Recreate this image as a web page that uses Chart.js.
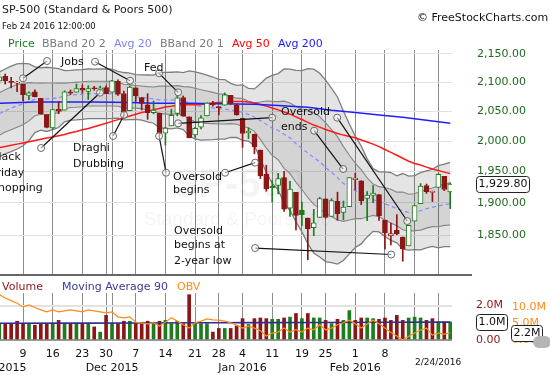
<!DOCTYPE html>
<html><head><meta charset="utf-8">
<script src="https://cdn.jsdelivr.net/npm/chart.js@4.4.1/dist/chart.umd.min.js"></script>
<style>
html,body{margin:0;padding:0;background:#fff}
body{width:550px;height:375px;overflow:hidden;position:relative;font-family:"DejaVu Sans",Verdana,sans-serif;color:#111}
canvas{position:absolute;left:0}
.t{position:absolute;white-space:nowrap;font-size:11px;line-height:13px}
</style></head><body>
<canvas id="pc" width="550" height="280" style="top:0px;width:550px;height:280px"></canvas>
<canvas id="vc" width="550" height="95" style="top:280px;width:550px;height:95px"></canvas>
<div class="t" style="left:2px;top:3px;color:#222">SP-500 (Standard &amp; Poors 500)</div>
<div class="t" style="left:2px;top:20px;font-size:8.5px;color:#111">Feb 24 2016 12:00:00</div>
<div class="t" style="left:417px;top:11px;color:#111">© FreeStockCharts.com</div>
<div class="t" style="left:8px;top:37px;color:#1e7b1e">Price</div>
<div class="t" style="left:42px;top:37px;color:#7a7a7a">BBand 20 2</div>
<div class="t" style="left:114px;top:37px;color:#8080ff">Avg 20</div>
<div class="t" style="left:160px;top:37px;color:#7a7a7a">BBand 20 1</div>
<div class="t" style="left:232px;top:37px;color:#ff0000">Avg 50</div>
<div class="t" style="left:278px;top:37px;color:#1a1aff">Avg 200</div>

<div class="t" style="left:61px;top:55px">Jobs</div>
<div class="t" style="left:144px;top:61px">Fed</div>
<div class="t" style="left:73px;top:141px">Draghi</div>
<div class="t" style="left:73px;top:157px">Drubbing</div>
<div class="t" style="left:-9px;top:150px">Black</div>
<div class="t" style="left:-9px;top:166px">Friday</div>
<div class="t" style="left:-9px;top:181px">Shopping</div>
<div class="t" style="left:173px;top:170px">Oversold</div>
<div class="t" style="left:173px;top:183px">begins</div>
<div class="t" style="left:281px;top:105px">Oversold</div>
<div class="t" style="left:281px;top:120px">ends</div>
<div class="t" style="left:174px;top:224px">Oversold</div>
<div class="t" style="left:174px;top:238px">begins at</div>
<div class="t" style="left:174px;top:254px">2-year low</div>

<div style="position:absolute;left:0;top:274px;width:472px;height:2px;background:#666"></div>
<div class="t" style="left:2px;top:280px;color:#8c1616">Volume</div>
<div class="t" style="left:62px;top:280px;color:#3a3a9a">Moving Average 90</div>
<div class="t" style="left:177px;top:280px;color:#ff8c1a">OBV</div>
<div class="t" style="left:415px;top:356px;font-size:9px">2/24/2016</div>
<div style="position:absolute;left:533px;top:336px;width:18px;height:12px;border-radius:6px;background:#b5b5b5"></div>

<script>
// ---------------- DATA ----------------
const dates = ["2015-11-03","2015-11-04","2015-11-05","2015-11-06","2015-11-09","2015-11-10","2015-11-11","2015-11-12","2015-11-13","2015-11-16","2015-11-17","2015-11-18","2015-11-19","2015-11-20","2015-11-23","2015-11-24","2015-11-25","2015-11-27","2015-11-30",
"2015-12-01","2015-12-02","2015-12-03","2015-12-04","2015-12-07","2015-12-08","2015-12-09","2015-12-10","2015-12-11","2015-12-14","2015-12-15","2015-12-16","2015-12-17","2015-12-18","2015-12-21","2015-12-22","2015-12-23","2015-12-24","2015-12-28","2015-12-29","2015-12-30","2015-12-31",
"2016-01-04","2016-01-05","2016-01-06","2016-01-07","2016-01-08","2016-01-11","2016-01-12","2016-01-13","2016-01-14","2016-01-15","2016-01-19","2016-01-20","2016-01-21","2016-01-22","2016-01-25","2016-01-26","2016-01-27","2016-01-28","2016-01-29",
"2016-02-01","2016-02-02","2016-02-03","2016-02-04","2016-02-05","2016-02-08","2016-02-09","2016-02-10","2016-02-11","2016-02-12","2016-02-16","2016-02-17","2016-02-18","2016-02-19","2016-02-22","2016-02-23","2016-02-24"];

const opens = [2102.63,2110.60,2101.68,2098.60,2096.56,2077.19,2083.41,2072.29,2044.64,2022.08,2053.67,2051.99,2083.70,2082.82,2089.41,2084.42,2089.30,2088.82,2090.95,
2082.93,2101.71,2080.71,2051.24,2090.42,2073.39,2061.17,2047.93,2047.27,2013.37,2025.55,2046.50,2073.76,2040.81,2010.27,2023.15,2042.20,2063.52,2057.77,2060.54,2077.34,2060.59,
2038.20,2013.78,2011.71,1985.32,1945.97,1926.12,1927.83,1940.34,1891.68,1916.68,1888.66,1876.18,1861.46,1877.40,1906.28,1878.79,1902.52,1885.22,1894.00,
1936.94,1935.26,1907.07,1911.67,1913.07,1873.25,1848.46,1857.10,1847.00,1833.40,1871.44,1898.80,1927.57,1916.74,1924.44,1942.38,1917.56];

const highs = [2116.48,2114.59,2108.78,2101.91,2096.56,2083.67,2086.94,2072.29,2044.64,2053.22,2066.69,2085.31,2086.74,2097.06,2095.61,2094.12,2093.00,2093.29,2093.81,
2103.37,2104.27,2085.00,2093.84,2090.42,2073.85,2080.33,2067.65,2047.27,2022.92,2053.87,2076.72,2076.37,2040.81,2022.90,2042.74,2064.73,2067.36,2057.77,2081.56,2077.34,2062.54,
2038.20,2021.94,2011.71,1985.32,1960.40,1935.65,1947.38,1950.33,1934.47,1916.68,1901.44,1876.18,1889.85,1908.85,1906.28,1906.73,1916.99,1902.96,1940.24,
1947.20,1935.26,1918.01,1927.35,1913.07,1873.25,1868.25,1881.60,1847.00,1864.78,1895.77,1930.68,1930.00,1918.78,1946.70,1942.38,1932.00];

const lows = [2097.51,2096.98,2090.41,2083.74,2068.24,2069.91,2074.85,2045.66,2022.02,2019.94,2045.90,2051.99,2078.76,2082.82,2081.39,2070.29,2086.30,2084.13,2080.41,
2082.93,2077.11,2042.35,2051.24,2066.78,2052.32,2036.53,2045.67,2008.80,1993.26,2025.55,2042.43,2041.66,2005.33,2005.93,2020.49,2042.20,2058.73,2044.20,2060.54,2061.97,2043.62,
1989.68,2004.17,1979.05,1938.83,1918.46,1901.10,1914.35,1886.41,1878.93,1857.83,1864.60,1812.29,1848.98,1877.40,1875.97,1878.79,1872.70,1873.65,1894.00,
1920.30,1897.29,1872.23,1900.52,1872.65,1828.46,1834.94,1850.32,1810.10,1833.40,1871.44,1898.80,1915.09,1902.17,1924.44,1919.44,1891.00];

const closes = [2109.79,2102.31,2099.93,2099.20,2078.58,2081.72,2075.00,2045.97,2023.04,2053.19,2050.44,2083.58,2081.24,2089.17,2086.59,2089.14,2088.87,2090.11,2080.41,
2102.63,2079.51,2049.62,2091.69,2077.07,2063.59,2047.62,2052.23,2012.37,2021.94,2043.41,2073.07,2041.89,2005.55,2021.15,2038.97,2064.29,2060.99,2056.50,2078.36,2063.36,2043.94,
2012.66,2016.71,1990.26,1943.09,1922.03,1923.67,1938.68,1890.28,1921.84,1880.33,1881.33,1859.33,1868.99,1906.90,1877.08,1903.63,1882.95,1893.36,1940.24,
1939.38,1903.03,1912.53,1915.45,1880.05,1853.44,1852.21,1851.86,1829.08,1864.78,1895.58,1926.82,1917.83,1917.78,1945.50,1921.27,1929.80];

const prevClose = 2104.05; // close before the first candle

const avg20 = [2045.9,2051.2,2055.5,2059.7,2062.8,2066.7,2070.7,2071.8,2071.3,2072.3,2073.3,2076.5,2078.0,2078.7,2079.4,2080.6,2080.5,2080.6,2080.6,2080.5,2079.0,2076.4,2076.0,2074.9,2074.1,2072.4,2071.3,2069.6,2069.6,2069.1,2070.2,2068.1,2064.3,2060.9,2058.5,2057.3,2055.9,2054.2,2054.1,2052.2,2050.4,2048.5,2044.8,2040.4,2034.4,2028.1,2021.7,2018.0,2011.4,2005.4,1995.7,1987.7,1980.4,1972.8,1966.2,1956.8,1948.9,1940.3,1931.0,1924.9,1919.6,1914.2,1908.9,1905.2,1902.1,1898.6,1895.1,1890.7,1887.7,1884.8,1885.6,1887.8,1890.8,1893.2,1895.1,1897.3,1898.6];

const bbUpper2 = [2117.9,2123.4,2128.5,2132.5,2133.4,2132.3,2127.1,2125.4,2126.5,2125.3,2123.9,2120.7,2120.8,2121.9,2122.4,2123.4,2123.3,2123.4,2123.4,2123.1,2119.4,2117.2,2116.0,2113.5,2113.1,2112.8,2112.7,2117.2,2117.4,2117.7,2118.2,2117.1,2119.9,2118.3,2115.5,2112.5,2109.3,2105.2,2104.9,2098.2,2094.8,2095.7,2089.6,2088.6,2097.4,2107.5,2112.3,2115.4,2123.6,2123.0,2120.9,2120.5,2124.0,2123.0,2115.8,2104.0,2089.7,2074.7,2050.8,2028.5,2008.2,1992.0,1970.7,1954.8,1949.5,1949.6,1948.5,1943.3,1946.9,1942.6,1943.4,1948.4,1951.2,1953.8,1959.7,1962.3,1965.0];

const bbUpper1 = [2081.9,2087.3,2092.0,2096.1,2098.1,2099.5,2098.9,2098.6,2098.9,2098.8,2098.6,2098.6,2099.4,2100.3,2100.9,2102.0,2101.9,2102.0,2102.0,2101.8,2099.2,2096.8,2096.0,2094.2,2093.6,2092.6,2092.0,2093.4,2093.5,2093.4,2094.2,2092.6,2092.1,2089.6,2087.0,2084.9,2082.6,2079.7,2079.5,2075.2,2072.6,2072.1,2067.2,2064.5,2065.9,2067.8,2067.0,2066.7,2067.5,2064.2,2058.3,2054.1,2052.2,2047.9,2041.0,2030.4,2019.3,2007.5,1990.9,1976.7,1963.9,1953.1,1939.8,1930.0,1925.8,1924.1,1921.8,1917.0,1917.3,1913.7,1914.5,1918.1,1921.0,1923.5,1927.4,1929.8,1931.8];

const bbLower1 = [2009.9,2015.1,2019.0,2023.3,2027.5,2033.9,2042.5,2045.0,2043.7,2045.8,2048.0,2054.4,2056.6,2057.1,2057.9,2059.2,2059.1,2059.2,2059.2,2059.2,2058.8,2056.0,2056.0,2055.6,2054.6,2052.2,2050.6,2045.8,2045.7,2044.8,2046.2,2043.6,2036.5,2032.2,2030.0,2029.7,2029.2,2028.7,2028.7,2029.2,2028.2,2024.9,2022.4,2016.3,2002.9,1988.4,1976.4,1969.3,1955.3,1946.6,1933.1,1921.3,1908.6,1897.7,1891.4,1883.2,1878.5,1873.1,1871.1,1873.1,1875.3,1875.3,1878.0,1880.4,1878.4,1873.1,1868.4,1864.4,1858.1,1855.9,1856.7,1857.5,1860.6,1862.9,1862.8,1864.8,1865.4];

const bbLower2 = [1973.9,1979.0,1982.5,1986.9,1992.2,2001.1,2014.3,2018.2,2016.1,2019.3,2022.7,2032.3,2035.2,2035.5,2036.4,2037.8,2037.7,2037.8,2037.8,2037.9,2038.6,2035.6,2036.0,2036.3,2035.1,2032.0,2029.9,2022.0,2021.8,2020.5,2022.2,2019.1,2008.7,2003.5,2001.5,2002.1,2002.5,2003.2,2003.3,2006.2,2006.0,2001.3,2000.0,1992.2,1971.4,1948.7,1931.1,1920.6,1899.2,1887.8,1870.5,1854.9,1836.8,1822.6,1816.6,1809.6,1808.1,1805.9,1811.2,1821.3,1831.0,1836.4,1847.1,1855.6,1854.7,1847.6,1841.7,1838.1,1828.5,1827.0,1827.8,1827.2,1830.4,1832.6,1830.5,1832.3,1832.2];

const avg50 = [1989,1991,1993,1995,1997,1999,2001,2003,2005,2007,2009,2011,2014,2016,2019,2021,2024,2027,2030,2033,2036,2039,2042,2045,2048,2050,2053,2055,2057.6,2058.8,2060.6,2061.5,2061.4,2061.5,2061.9,2063.2,2064.5,2065.2,2066.1,2066.7,2066.9,2066.8,2066.1,2064.4,2061.8,2058.9,2055.6,2052.6,2048.8,2045.2,2040.6,2036.2,2031.4,2026.8,2023.4,2019.3,2015.9,2012.6,2010.0,2007.7,2005.5,2001.9,1998.5,1995.0,1990.9,1986.2,1981.5,1976.7,1971.7,1966.9,1963.2,1960.8,1957.3,1954.1,1951.7,1949.2,1946.7];

const avg200Dates = ["2015-11-03","2015-11-11","2015-11-18","2015-11-25","2015-12-04","2015-12-10","2015-12-18","2015-12-28","2016-01-06","2016-01-12","2016-01-20","2016-01-26","2016-02-01","2016-02-05","2016-02-11","2016-02-18","2016-02-24"];
const avg200 = [2064,2066,2066,2066,2065,2064,2064,2063,2062,2060,2057,2052,2048,2044,2040,2035,2030];

// volume, its 90-day average and on-balance volume (millions)
const volumeM = [0.95,0.95,0.95,1.09,0.95,0.95,0.86,0.95,0.95,0.95,1.14,0.95,0.95,0.95,0.95,0.95,0.76,0.46,1.43,0.95,0.95,1.09,1.09,0.95,0.95,1.09,0.95,1.09,1.14,0.95,1.09,0.95,2.63,0.95,0.95,0.95,0.46,0.67,0.67,0.67,0.82,1.24,0.90,1.24,1.28,1.24,1.20,1.20,1.28,1.33,1.54,1.24,1.54,1.28,1.28,1.14,0.95,1.20,1.14,1.71,1.14,1.28,1.28,1.24,1.20,1.28,1.14,1.43,1.14,1.28,1.33,1.28,1.14,1.24,1.05,1.05,1.05];
const obvM = [13.7,12.7,11.9,11.1,10.0,10.6,9.8,9.1,8.5,9.1,8.5,8.8,9.1,8.8,8.5,9.1,8.8,8.5,8.2,8.5,7.0,6.7,7.0,5.4,5.1,4.9,5.2,4.2,5.4,6.7,5.7,4.6,3.6,5.2,5.7,6.4,6.1,6.0,5.7,5.2,4.5,3.6,4.2,3.6,2.8,1.2,2.1,2.4,3.6,2.4,3.1,2.4,3.6,3.1,4.6,3.1,3.6,4.6,5.2,6.0,4.9,3.6,4.8,6.0,4.9,3.6,2.3,1.2,0.0,1.1,2.1,3.0,3.6,1.5,2.1,1.8,2.2];
const ma90Dates = ["2015-11-03","2015-11-23","2015-12-08","2015-12-22","2016-01-07","2016-01-22","2016-02-08","2016-02-24"];
const ma90 = [0.97,0.98,0.99,1.00,1.01,1.02,1.03,1.04];

// axis ticks
const priceTicks = [1850,1900,1950,2000,2050,2100,2150];
const gridDates = ["2015-11-09","2015-11-16","2015-11-23","2015-11-30","2015-12-01","2015-12-07","2015-12-14","2015-12-21","2015-12-28","2016-01-04","2016-01-11","2016-01-19","2016-01-25","2016-02-01","2016-02-08","2016-02-16","2016-02-22"];
const dayText   = ["9","16","23","30","","7","14","21","28","4","11","19","25","1","8","",""];
const monthText = ["","","","","Dec 2015","","","","","Jan 2016","","","","Feb 2016","","",""];
const firstMonthText = "Nov 2015";

// ---------------- CHART ----------------
Chart.defaults.font.family = '"DejaVu Sans", Verdana, sans-serif';
Chart.defaults.font.size = 11;
const FONT = '11px "DejaVu Sans", Verdana, sans-serif';
const xi = d => dates.indexOf(d);
const X_MIN = 0.12, X_MAX = 76.3;
const GREEN = '#1e7b1e', RED = '#8c1616';
const isUp = closes.map((c,i) => c >= (i > 0 ? closes[i-1] : prevClose));
const col = i => isUp[i] ? GREEN : RED;
const pts = arr => arr.map((v,i) => ({x:i, y:v}));

const annotations = [
  [4.0,2107.1, 8.05,2137.5], [16.14,2136.3, 22.04,2102.9],
  [7.04,1988.6, 16.98,2082.0], [19.18,2008.5, 21.03,2043.8],
  [26.93,2115.8, 30.14,2082.7], [26.93,2008.5, 28.11,1948.2],
  [38.06,1948.2, 43.12,1964.5], [30.14,2029.8, 45.99,2039.3],
  [53.07,2017.3, 57.96,1954.2], [56.95,2039.3, 68.76,1871.6],
  [43.12,1830.1, 66.06,1820.3]
];

function gridTicks(scale){ scale.ticks = gridDates.map(d => ({value: xi(d)})); }
function fixWidth(w){ return s => { s.width = w; s.paddingTop = 0; s.paddingBottom = 0; }; }

function roundBox(ctx, x, y, text, w){
  ctx.save();
  ctx.font = FONT;
  const tw = w || ctx.measureText(text).width + 4;
  ctx.beginPath();
  ctx.roundRect(x + 0.5, Math.round(y - 8) + 0.5, tw, 16, 3);
  ctx.fillStyle = '#fff'; ctx.fill();
  ctx.strokeStyle = '#222'; ctx.lineWidth = 1; ctx.stroke();
  ctx.fillStyle = '#111'; ctx.textBaseline = 'middle'; ctx.textAlign = 'left';
  ctx.fillText(text, x + 2.5, Math.round(y) + 0.5);
  ctx.restore();
}

const priceDecor = {
  id: 'priceDecor',
  beforeDatasetsDraw(chart){
    const {ctx, chartArea:a} = chart;
    ctx.save();
    ctx.fillStyle = 'rgba(0,0,0,0.045)';
    ctx.textAlign = 'center'; ctx.textBaseline = 'alphabetic';
    ctx.font = 'bold 40px "Liberation Sans", sans-serif';
    ctx.fillText('SP-500', a.left + (a.right - a.left) * 0.527, a.top + 147);
    ctx.font = '19px "Liberation Sans", sans-serif';
    ctx.fillText('Standard & Poors 500', a.left + (a.right - a.left) * 0.525, a.top + 175);
    ctx.restore();
  },
  afterDatasetsDraw(chart){
    const {ctx, scales:{x, y}} = chart;
    ctx.save();
    ctx.strokeStyle = '#111'; ctx.lineWidth = 1.2;
    annotations.forEach(([a1,p1,a2,p2]) => {
      ctx.beginPath();
      ctx.moveTo(x.getPixelForValue(a1), y.getPixelForValue(p1));
      ctx.lineTo(x.getPixelForValue(a2), y.getPixelForValue(p2));
      ctx.stroke();
    });
    ctx.lineWidth = 1; ctx.strokeStyle = '#666'; ctx.fillStyle = 'rgba(255,255,255,0.55)';
    annotations.forEach(([a1,p1,a2,p2]) => {
      [[a1,p1],[a2,p2]].forEach(([a,p]) => {
        ctx.beginPath();
        ctx.arc(x.getPixelForValue(a), y.getPixelForValue(p), 3.5, 0, Math.PI*2);
        ctx.fill(); ctx.stroke();
      });
    });
    ctx.restore();
  },
  afterDraw(chart){
    const {scales:{y}, chartArea:a, ctx} = chart;
    const last = closes[closes.length-1];
    roundBox(ctx, a.right + 24, y.getPixelForValue(last),
      last.toLocaleString('en-US',{minimumFractionDigits:2, maximumFractionDigits:2}));
  }
};

new Chart(document.getElementById('pc'), {
  type: 'bar',
  data: { datasets: [
    {type:'line', data:pts(bbUpper2), borderColor:'#7d7d7d', borderWidth:1.3, backgroundColor:'rgba(0,0,0,0.105)', fill:'+1', pointRadius:0, order:20},
    {type:'line', data:pts(bbUpper1), borderColor:'#858585', borderWidth:1.1, backgroundColor:'rgba(0,0,0,0.17)', fill:'+1', pointRadius:0, order:19},
    {type:'line', data:pts(bbLower1), borderColor:'#858585', borderWidth:1.1, backgroundColor:'rgba(0,0,0,0.105)', fill:'+1', pointRadius:0, order:18},
    {type:'line', data:pts(bbLower2), borderColor:'#7d7d7d', borderWidth:1.3, fill:false, pointRadius:0, order:17},
    {type:'line', data:pts(avg20), borderColor:'#8c8cff', borderWidth:1.3, borderDash:[4,3], fill:false, pointRadius:0, order:10},
    {type:'line', data:pts(avg50), borderColor:'#ff1a1a', borderWidth:1.5, fill:false, pointRadius:0, order:9},
    {type:'line', data:avg200Dates.map((d,k) => ({x:xi(d), y:avg200[k]})), borderColor:'#1f1fff', borderWidth:1.5, fill:false, pointRadius:0, order:8},
    {type:'bar', data:dates.map((d,i) => ({x:i, y:[Math.max(opens[i],closes[i]), highs[i]]})), grouped:false, barThickness:1, borderWidth:0, backgroundColor:c => col(c.dataIndex), order:3},
    {type:'bar', data:dates.map((d,i) => ({x:i, y:[lows[i], Math.min(opens[i],closes[i])]})), grouped:false, barThickness:1, borderWidth:0, backgroundColor:c => col(c.dataIndex), order:3},
    {type:'bar', data:dates.map((d,i) => ({x:i, y:[opens[i], closes[i]]})), grouped:false, barThickness:5, borderWidth:1, borderSkipped:false, minBarLength:1,
      borderColor:c => col(c.dataIndex), backgroundColor:c => closes[c.dataIndex] > opens[c.dataIndex] ? '#ffffff' : col(c.dataIndex), order:2}
  ]},
  options: {
    responsive:false, animation:false, devicePixelRatio:1, events:[],
    layout:{padding:{top:50, left:0, right:0, bottom:0}},
    plugins:{legend:{display:false}, tooltip:{enabled:false}},
    scales:{
      x:{type:'linear', min:X_MIN, max:X_MAX, offset:false, afterBuildTicks:gridTicks, afterFit:s => {s.height = 5;},
         grid:{color:'#8c8c8c', lineWidth:1, offset:false, drawTicks:false}, border:{display:false}, ticks:{display:false}},
      y:{type:'logarithmic', position:'right', min:1789.6, max:2157.15,
         afterBuildTicks:s => {s.ticks = priceTicks.map(v => ({value:v}));}, afterFit:fixWidth(98),
         grid:{color:'#e2e2e2', drawTicks:false}, border:{display:false},
         ticks:{padding:25, color:'#1f6b1f', font:{size:11},
           callback:v => Number(v).toLocaleString('en-US',{minimumFractionDigits:2, maximumFractionDigits:2})}}
    }
  },
  plugins:[priceDecor]
});

const volDecor = {
  id:'volDecor',
  afterDraw(chart){
    const {ctx, scales:{x, y, y2}, chartArea:a} = chart;
    ctx.save();
    ctx.font = FONT; ctx.fillStyle = '#111'; ctx.textAlign = 'center'; ctx.textBaseline = 'middle';
    ctx.fillText(firstMonthText, x.getPixelForValue(X_MIN), a.bottom + 8 + 13.2*1.5);
    ctx.restore();
    roundBox(ctx, a.right + 24, y.getPixelForValue(ma90[ma90.length-1]), ma90[ma90.length-1].toFixed(1) + 'M');
    roundBox(ctx, a.right + 59, y2.getPixelForValue(obvM[obvM.length-1]), obvM[obvM.length-1].toFixed(1) + 'M');
  }
};

new Chart(document.getElementById('vc'), {
  type:'bar',
  data:{ datasets:[
    {type:'line', data:obvM.map((v,i) => ({x:i, y:v})), yAxisID:'y2', borderColor:'#ff8c1a', borderWidth:1.2, pointRadius:0, fill:false, order:1},
    {type:'line', data:ma90Dates.map((d,k) => ({x:xi(d), y:ma90[k]})), yAxisID:'y', borderColor:'#30308c', borderWidth:1.6, pointRadius:0, fill:false, order:2},
    {type:'bar', data:volumeM.map((v,i) => ({x:i, y:v})), yAxisID:'y', grouped:false, barThickness:3, backgroundColor:c => col(c.dataIndex), order:3}
  ]},
  options:{
    responsive:false, animation:false, devicePixelRatio:1, events:[],
    layout:{padding:{top:13, left:0, right:0, bottom:0}},
    plugins:{legend:{display:false}, tooltip:{enabled:false}},
    scales:{
      x:{type:'linear', min:X_MIN, max:X_MAX, offset:false, afterBuildTicks:gridTicks, afterFit:s => {s.height = 35;},
         grid:{color:'#8c8c8c', offset:false, drawTicks:false}, border:{display:false},
         ticks:{autoSkip:false, maxRotation:0, padding:8, color:'#111', font:{size:11, lineHeight:1.2},
           callback:(v,k) => [dayText[k], monthText[k]]}},
      y:{position:'right', weight:0, min:0, max:2.73, afterBuildTicks:s => {s.ticks = [{value:0},{value:2}];}, afterFit:fixWidth(54),
         grid:{color:c => c.tick && c.tick.value === 0 ? '#999' : '#e2e2e2', lineWidth:c => c.tick && c.tick.value === 0 ? 2 : 1, drawTicks:false}, border:{display:false},
         ticks:{padding:24, color:'#8c1616', callback:v => v === 0 ? '0.00' : v.toFixed(1) + 'M'}},
      y2:{position:'right', weight:1, min:0, max:14.2, afterBuildTicks:s => {s.ticks = [{value:0},{value:5},{value:10}];}, afterFit:fixWidth(44),
         grid:{color:c => c.tick && c.tick.value === 10 ? '#e2e2e2' : 'rgba(0,0,0,0)', drawTicks:false}, border:{display:false},
         ticks:{padding:6, color:'#ff8c1a', callback:v => v === 0 ? '0.00' : v.toFixed(1) + 'M'}}
    }
  },
  plugins:[volDecor]
});
</script>
</body></html>
